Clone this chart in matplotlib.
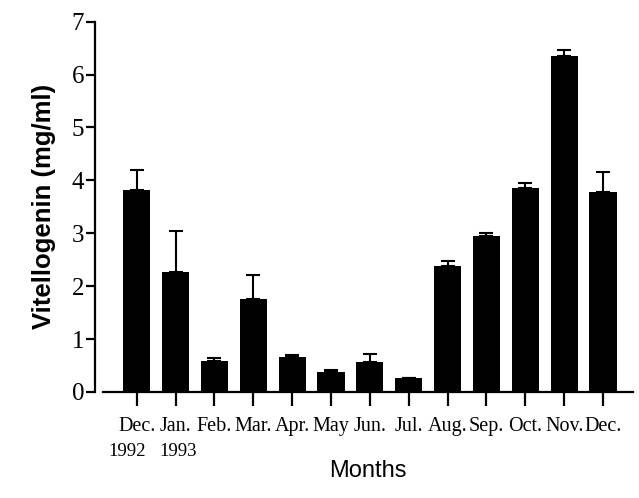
import numpy as np
import matplotlib.pyplot as plt
from matplotlib.transforms import blended_transform_factory

months = ['Dec.', 'Jan.', 'Feb.', 'Mar.', 'Apr.', 'May', 'Jun.',
          'Jul.', 'Aug.', 'Sep.', 'Oct.', 'Nov.', 'Dec.']
years = ['1992', '1993']
vtg = [3.81, 2.27, 0.59, 1.76, 0.67, 0.38, 0.57, 0.26, 2.39, 2.94, 3.86, 6.35, 3.78]
sem = [0.38, 0.78, 0.05, 0.46, 0.02, 0.03, 0.14, 0.01, 0.08, 0.06, 0.09, 0.11, 0.38]

fig = plt.figure(figsize=(6.39, 4.98), dpi=100)
ax = fig.add_axes([0.1612, 0.2129, 0.8294, 0.7436])

x = np.arange(len(months))
ax.bar(x, vtg, width=0.7, color='black', zorder=2)
ax.errorbar(x, vtg, yerr=[np.zeros(len(sem)), sem], fmt='none',
            ecolor='black', elinewidth=1.5, capsize=5, capthick=1.5, zorder=3)

ax.set_xlim(-0.867, 12.77)
ax.set_ylim(0, 7)
ax.set_yticks(range(8))

for s in ['top', 'right']:
    ax.spines[s].set_visible(False)
ax.spines['left'].set_position(('outward', 6))
ax.spines['left'].set_linewidth(1.6)
ax.spines['bottom'].set_linewidth(1.6)

ax.set_xticks(x)
ax.set_xticklabels(months, fontfamily='Liberation Serif', fontsize=14.5)
ax.tick_params(axis='x', direction='out', length=10, width=1.6, pad=8)
ax.tick_params(axis='y', direction='out', length=6.5, width=1.6, pad=1,
               labelsize=18)
for lab in ax.get_yticklabels():
    lab.set_fontfamily('Liberation Serif')

# years sit under the first two month labels
trans = blended_transform_factory(ax.transData, fig.transFigure)
for xpos, yr in zip([-0.25, 1.06], years):
    ax.text(xpos, 0.094, yr, transform=trans, ha='center', va='center',
            fontfamily='Liberation Serif', fontsize=13.5)

ax.set_ylabel('Vitellogenin (mg/ml)', fontfamily='Liberation Sans',
              fontweight='bold', fontsize=18.5, labelpad=11)
ax.set_xlabel('Months', fontfamily='Liberation Sans', fontsize=17, labelpad=17)

fig.savefig('out.png', dpi=100)
